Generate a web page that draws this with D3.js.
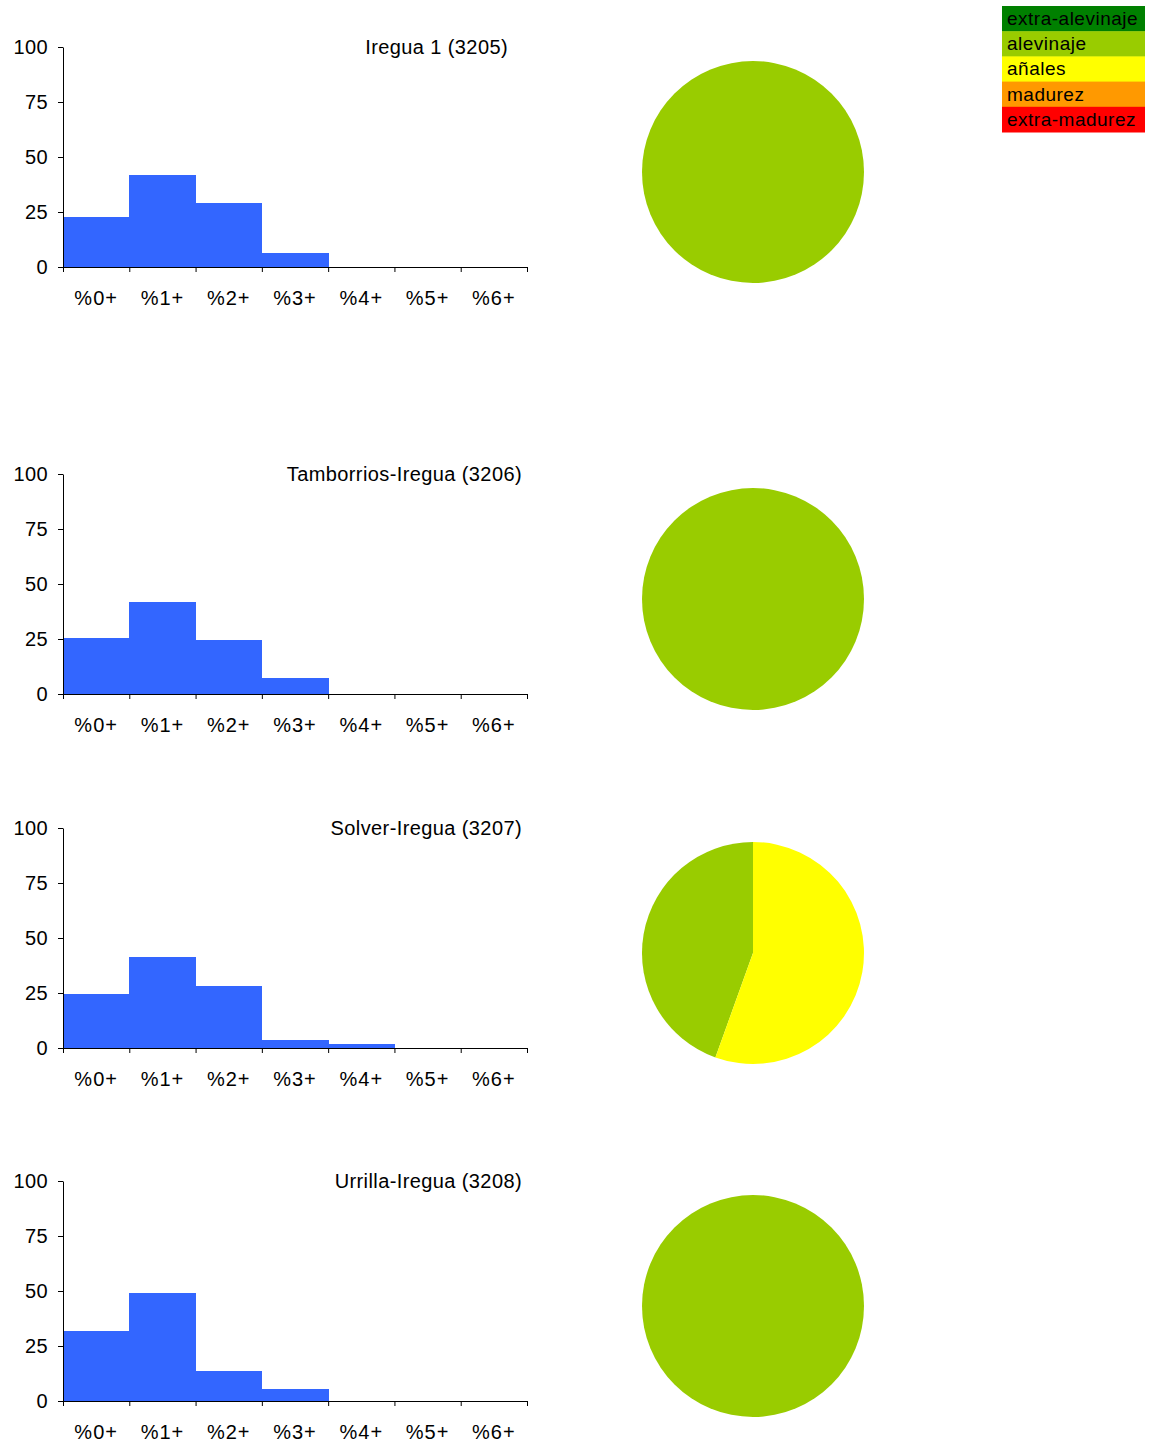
<!DOCTYPE html>
<html>
<head>
<meta charset="utf-8">
<script src="https://cdn.jsdelivr.net/npm/d3@7"></script>
<style>
  body { margin: 0; background: #fff; }
  text { font-family: "Liberation Sans", Arial, sans-serif; fill: #000; }
</style>
</head>
<body>
<div id="chart"></div>
<script>
// data
const classes = ["%0+", "%1+", "%2+", "%3+", "%4+", "%5+", "%6+"];
const stations = ["Iregua 1 (3205)", "Tamborrios-Iregua (3206)", "Solver-Iregua (3207)", "Urrilla-Iregua (3208)"];
const pct3205 = [22.7, 41.8, 29.1, 6.4, 0, 0, 0];
const pct3206 = [25.5, 41.8, 24.5, 7.3, 0, 0, 0];
const pct3207 = [24.7, 41.5, 28.3, 3.8, 1.9, 0, 0];
const pct3208 = [31.7, 48.9, 13.5, 5.3, 0, 0, 0];
const stages = ["extra-alevinaje", "alevinaje", "añales", "madurez", "extra-madurez"];
const stageColors = ["#008000", "#99cc00", "#ffff00", "#ff9900", "#ff0000"];
const stage3205 = [0, 100, 0, 0, 0];
const stage3206 = [0, 100, 0, 0, 0];
const stage3207 = [0, 44.5, 55.5, 0, 0];
const stage3208 = [0, 100, 0, 0, 0];
const yTicks = [0, 25, 50, 75, 100];

const hist = [pct3205, pct3206, pct3207, pct3208];
const pies = [stage3205, stage3206, stage3207, stage3208];

// layout
const W = 1150, H = 1447;
const panelTop = [47, 474, 828, 1181];
const titleX = [508, 522, 522, 522];
const plotH = 220, x0 = 63, x1 = 527;
const pieCx = 753, pieDy = 125, pieR = 111;
const font = "20px";

const svg = d3.select("#chart").append("svg")
    .attr("width", W)
    .attr("height", H);

const x = d3.scaleBand().domain(classes).range([x0, x1]).padding(0);
const xTickScale = d3.scaleLinear().domain([0, classes.length]).range([x0, x1]);
const y = d3.scaleLinear().domain([0, 100]).range([plotH, 0]);
const color = d3.scaleOrdinal().domain(stages).range(stageColors);

const arc = d3.arc().innerRadius(0).outerRadius(pieR);
const pie = d3.pie().sort(null).value(d => d.v).startAngle(0).endAngle(-2 * Math.PI);

hist.forEach((vals, i) => {
    const g = svg.append("g").attr("transform", `translate(0,${panelTop[i]})`);

    // bars
    g.append("g")
        .selectAll("rect")
        .data(vals)
        .join("rect")
        .attr("x", (d, j) => x(classes[j]))
        .attr("y", d => y(d))
        .attr("width", x.bandwidth() + 0.6)
        .attr("height", d => plotH - y(d))
        .attr("fill", "#3366ff")
        .attr("shape-rendering", "crispEdges");

    // y axis
    const ya = g.append("g")
        .attr("transform", `translate(${x0},0)`)
        .call(d3.axisLeft(y).tickValues(yTicks).tickSize(5).tickSizeOuter(0).tickPadding(10));
    ya.selectAll("text").style("font-size", font).style("letter-spacing", "0.4px");

    // x axis tick marks at category boundaries
    g.append("g")
        .attr("transform", `translate(0,${plotH})`)
        .call(d3.axisBottom(xTickScale).ticks(classes.length).tickSize(5).tickSizeOuter(0).tickFormat(""));

    // x labels
    const xa = g.append("g")
        .attr("transform", `translate(0,${plotH})`)
        .call(d3.axisBottom(x).tickSize(0).tickPadding(24));
    xa.select(".domain").remove();
    xa.selectAll("text").style("font-size", font).style("letter-spacing", "1px");

    g.selectAll(".domain, .tick line").attr("stroke", "#000");

    // title
    g.append("text")
        .attr("x", titleX[i])
        .attr("y", 7)
        .attr("text-anchor", "end")
        .style("font-size", font)
        .style("letter-spacing", "0.4px")
        .text(stations[i]);

    // pie
    const slices = pies[i].map((v, k) => ({ stage: stages[k], v })).filter(d => d.v > 0);
    g.append("g")
        .attr("transform", `translate(${pieCx},${pieDy})`)
        .selectAll("path")
        .data(pie(slices))
        .join("path")
        .attr("d", arc)
        .attr("fill", d => color(d.data.stage));
});

// legend
const lg = svg.append("g").attr("transform", "translate(1002,6)");
const rowH = 25.2;
lg.selectAll("rect")
    .data(stages)
    .join("rect")
    .attr("x", 0)
    .attr("y", (d, i) => i * rowH)
    .attr("width", 143)
    .attr("height", rowH + 0.5)
    .attr("fill", d => color(d));
lg.selectAll("text")
    .data(stages)
    .join("text")
    .attr("x", 5)
    .attr("y", (d, i) => i * rowH + 19)
    .style("font-size", "19px")
    .style("letter-spacing", "0.5px")
    .text(d => d);
</script>
</body>
</html>
